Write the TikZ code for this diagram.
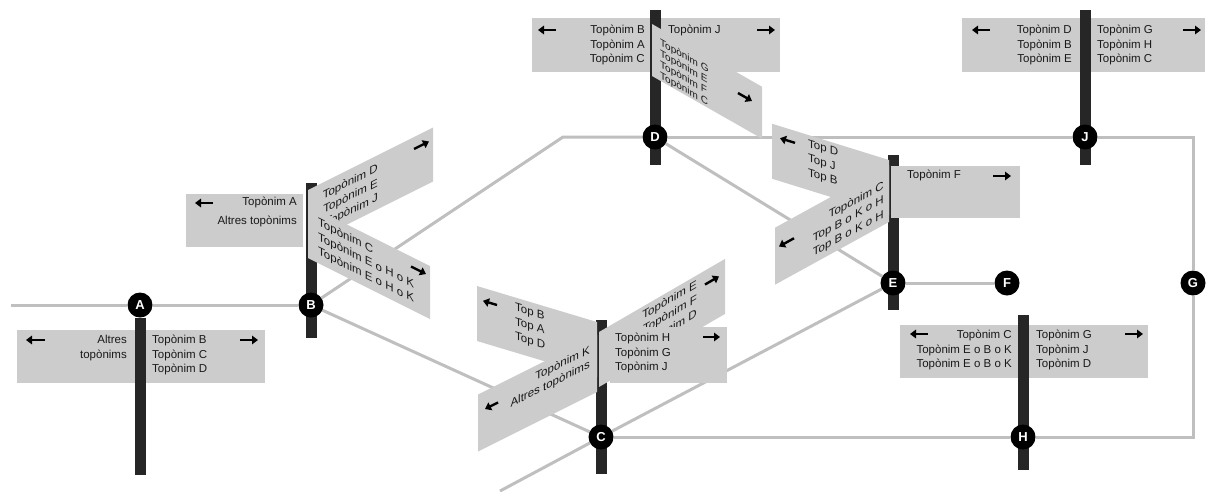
\documentclass[tikz,border=0pt]{standalone}
\usepackage{fontspec}
\setmainfont{Liberation Sans}
\usetikzlibrary{arrows.meta,backgrounds}
\tikzset{
  road/.style={draw=gray!50, line width=3pt},
  signpost/.style={draw=black!85, line width=11pt},
  plate/.style={fill=gray!40},
  junction/.style={circle, fill=black, minimum size=25pt, inner sep=0pt, text=white, font=\bfseries\fontsize{13}{13}\selectfont},
  signtxt/.style={inner sep=0pt, text=black!90, font=\fontsize{11.5}{14.5}\selectfont},
  dirarrow/.style={draw=black, line width=2.4pt, -{Triangle[length=6pt, width=8.5pt]}}
}
\begin{document}
\begin{tikzpicture}[x=1pt,y=-1pt]
\useasboundingbox (0,0) rectangle (1210,491);
% flat plates behind the posts
\fill[plate] (17,330) rectangle (265,383);
\node[signtxt, anchor=north east, align=right] (al) at (127,335) {Altres\\topònims};
\node[signtxt, anchor=north west, align=left] (ar) at (152,335) {Topònim B\\Topònim C\\Topònim D};
\draw[dirarrow] (45,340) -- (26,340);
\draw[dirarrow] (240,340) -- (258,340);
\fill[plate] (962,18) rectangle (1205,72);
\node[signtxt, anchor=north east, align=right] (jl) at (1072,25) {Topònim D\\Topònim B\\Topònim E};
\node[signtxt, anchor=north west, align=left] (jr) at (1097,25) {Topònim G\\Topònim H\\Topònim C};
\draw[dirarrow] (990,30) -- (972,30);
\draw[dirarrow] (1183,30) -- (1201,30);
\fill[plate] (900,325) rectangle (1148,378);
\node[signtxt, anchor=north east, align=right] (hl) at (1012,330) {Topònim C\\Topònim E o B o K\\Topònim E o B o K};
\node[signtxt, anchor=north west, align=left] (hr) at (1036,330) {Topònim G\\Topònim J\\Topònim D};
\draw[dirarrow] (928,334) -- (910,334);
\draw[dirarrow] (1125,334) -- (1143,334);
\fill[plate] (532,18) rectangle (780,72);
\node[signtxt, anchor=north east, align=right] (dl) at (645,25) {Topònim B\\Topònim A\\Topònim C};
\draw[dirarrow] (556,30) -- (538,30);
\draw[dirarrow] (757,30) -- (775,30);
\fill[plate] (186,194) rectangle (303,247);
\node[signtxt, anchor=north east, align=right] (bl) at (297,197) {Topònim A\\[4pt]Altres topònims};
\draw[dirarrow] (213,203) -- (195,203);
% posts
\draw[signpost] (140,318) -- (140,475);
\draw[signpost] (311,183) -- (311,338);
\draw[signpost] (601,320) -- (601,474);
\draw[signpost] (655,10) -- (655,165);
\draw[signpost] (893,155) -- (893,310);
\draw[signpost] (1023,315) -- (1023,470);
\draw[signpost] (1085,10) -- (1085,165);
% slanted plates
\begin{scope}[shift={(308,190)}, yslant=0.5]
\fill[plate] (0,0) -- (125,0) -- (125,54) -- (0,54) -- cycle;
\node[signtxt, transform shape, anchor=north east, align=right] (bu) at (70,8) {Topònim D\\Topònim E\\Topònim J};
\draw[dirarrow] (106,12) -- (121,12);
\end{scope}
\begin{scope}[shift={(308,205)}, yslant=-0.5]
\fill[plate] (0,0) -- (122,0) -- (122,53) -- (0,53) -- cycle;
\node[signtxt, transform shape, anchor=north west, align=left] (bd) at (10,7) {Topònim C\\Topònim E o H o K\\Topònim E o H o K};
\draw[dirarrow] (103,10) -- (118,10);
\end{scope}
\begin{scope}[shift={(652,24)}, yslant=-0.57]
\fill[plate] (0,0) -- (110,0) -- (110,52) -- (0,52) -- cycle;
\node[signtxt, transform shape, anchor=north west, align=left, font=\fontsize{10}{11}\selectfont] (ds) at (8,9) {Topònim G\\Topònim E\\Topònim F\\Topònim C};
\draw[dirarrow] (86,20) -- (100,20);
\end{scope}
\node[signtxt, anchor=north west] (dr) at (668,25) {Topònim J};
\fill[plate] (891,166) rectangle (1020,218);
\node[signtxt, anchor=north west] (er) at (907,170) {Topònim F};
\draw[dirarrow] (993,176) -- (1011,176);
\begin{scope}[shift={(889,160)}, yslant=-0.31]
\fill[plate] (-117,0) -- (0,0) -- (0,55) -- (-117,55) -- cycle;
\node[signtxt, transform shape, anchor=north west, align=left] (eu) at (-81,4) {Top D\\Top J\\Top B};
\draw[dirarrow] (-94,12) -- (-109,12);
\end{scope}
\begin{scope}[shift={(889,165)}, yslant=0.55]
\fill[plate] (-114,0) -- (0,0) -- (0,57) -- (-114,57) -- cycle;
\node[signtxt, transform shape, anchor=north east, align=right] (el) at (-5,12) {Topònim C\\Top B o K o H\\Top B o K o H};
\draw[dirarrow] (-95,21) -- (-110,21);
\end{scope}
\begin{scope}[shift={(597,322)}, yslant=-0.3]
\fill[plate] (-120,0) -- (0,0) -- (0,55) -- (-120,55) -- cycle;
\node[signtxt, transform shape, anchor=north west, align=left] (cu) at (-82,5) {Top B\\Top A\\Top D};
\draw[dirarrow] (-100,13) -- (-114,13);
\end{scope}
\begin{scope}[shift={(597,335)}, yslant=0.5]
\fill[plate] (-119,0) -- (0,0) -- (0,57) -- (-119,57) -- cycle;
\node[signtxt, transform shape, anchor=north east, align=right] (cl) at (-7,6) {Topònim K\\Altres topònims};
\draw[dirarrow] (-99,18) -- (-112,18);
\end{scope}
\begin{scope}[shift={(599,332)}, yslant=0.58]
\fill[plate] (0,0) -- (126,0) -- (126,55) -- (0,55) -- cycle;
\node[signtxt, transform shape, anchor=north east, align=right] (cr) at (98,4) {Topònim E\\Topònim F\\Topònim D};
\draw[dirarrow] (106,14) -- (120,14);
\end{scope}
\fill[plate] (610,327) rectangle (727,383);
\node[signtxt, anchor=north west, align=left] (cf) at (615,333) {Topònim H\\Topònim G\\Topònim J};
\draw[dirarrow] (703,337) -- (720,337);
% junctions
\node[junction] (A) at (140,305) {A};
\node[junction] (B) at (311,305) {B};
\node[junction] (C) at (601,437) {C};
\node[junction] (D) at (655,137) {D};
\node[junction] (E) at (893,283) {E};
\node[junction] (F) at (1007,283) {F};
\node[junction] (G) at (1193,283) {G};
\node[junction] (H) at (1023,437) {H};
\node[junction] (J) at (1085,137) {J};
\coordinate (w) at (11,305);
\coordinate (bend) at (563,137);
\coordinate (ne) at (1193,137);
\coordinate (se) at (1193,437);
\coordinate (s) at (500,491);
\begin{scope}[on background layer]
\draw[road] (w) -- (A);
\draw[road] (A) -- (B);
\draw[road] (B) -- (bend) -- (D);
\draw[road] (D) -- (J);
\draw[road] (J) -- (ne) -- (G);
\draw[road] (G) -- (se) -- (H);
\draw[road] (H) -- (C);
\draw[road] (D) -- (E);
\draw[road] (E) -- (F);
\draw[road] (B) -- (C);
\draw[road] (s) -- (C);
\draw[road] (C) -- (E);
\end{scope}
\end{tikzpicture}
\end{document}
